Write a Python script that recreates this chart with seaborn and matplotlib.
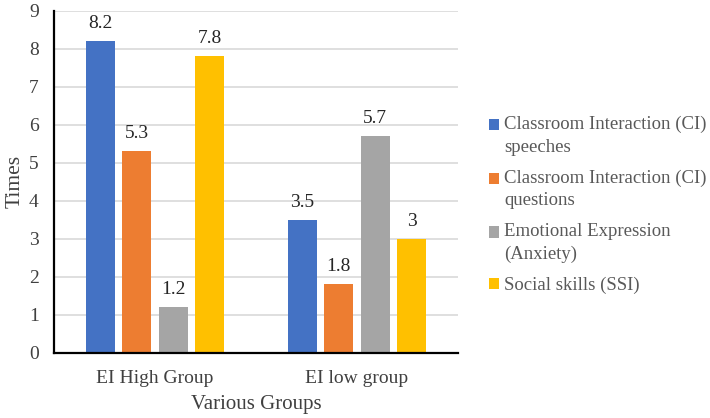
import matplotlib
matplotlib.use("Agg")
import matplotlib.pyplot as plt
import seaborn as sns
import pandas as pd
from matplotlib.patches import Rectangle, Patch
from matplotlib.legend_handler import HandlerPatch

groups = ["EI High Group", "EI low group"]
series = [
    "Classroom Interaction (CI)\nspeeches",
    "Classroom Interaction (CI)\nquestions",
    "Emotional Expression\n(Anxiety)",
    "Social skills (SSI)",
]
ci_speeches = [8.2, 3.5]
ci_questions = [5.3, 1.8]
emotional_anxiety = [1.2, 5.7]
social_skills = [7.8, 3.0]
colors = ["#4472C4", "#ED7D31", "#A5A5A5", "#FFC000"]
y_ticks = list(range(0, 10))

values = [ci_speeches, ci_questions, emotional_anxiety, social_skills]
rows = []
for s, vals in zip(series, values):
    for g, v in zip(groups, vals):
        rows.append({"Group": g, "Series": s, "Times": v})
df = pd.DataFrame(rows)

sns.set_style("white")
plt.rcParams["font.family"] = ["Liberation Serif", "DejaVu Serif"]

fig = plt.figure(figsize=(7.10, 4.18), dpi=100)
ax = fig.add_axes([54 / 710, 1 - 352.7 / 418, (458 - 54) / 710, (352.7 - 10.7) / 418])

sns.barplot(data=df, x="Group", y="Times", hue="Series", order=groups,
            hue_order=series, palette=colors, width=0.72, gap=0.2,
            linewidth=0, saturation=1, legend=False, ax=ax, errorbar=None)

for cont in ax.containers:
    ax.bar_label(cont, fmt="%g", padding=6.5, fontsize=14, color="#262626")

ax.set_ylim(0, 9)
ax.set_yticks(y_ticks)
ax.set_xlim(-0.5, 1.5)
ax.yaxis.grid(True, color="#D9D9D9", linewidth=1.2)
ax.set_axisbelow(True)
for side in ["top", "right"]:
    ax.spines[side].set_visible(False)
for side in ["left", "bottom"]:
    ax.spines[side].set_color("black")
    ax.spines[side].set_linewidth(1.6)
ax.tick_params(axis="both", length=0, labelsize=14, colors="#404040")
ax.tick_params(axis="y", pad=11)
ax.tick_params(axis="x", pad=12.5)
ax.set_xlabel("Various Groups", fontsize=15, color="#404040", labelpad=6)
ax.set_ylabel("Times", fontsize=15.5, color="#404040", labelpad=3)


def make_patch_func(shift):
    def f(legend, orig_handle, xdescent, ydescent, width, height, fontsize):
        return Rectangle((-xdescent, -ydescent + shift), width, height)
    return f


handles = [Patch(facecolor=c, edgecolor="none") for c in colors]
hmap = {}
for h, s in zip(handles, series):
    shift = 8.0 if "\n" in s else 0.0
    hmap[h] = HandlerPatch(patch_func=make_patch_func(shift))

leg = fig.legend(handles, series, loc="upper left",
                 bbox_to_anchor=(489 / 710, 1 - 116 / 418),
                 frameon=False, fontsize=13.5, handlelength=0.54,
                 handleheight=0.54, handletextpad=0.27, labelspacing=0.74,
                 borderpad=0, borderaxespad=0, handler_map=hmap)
for t in leg.get_texts():
    t.set_color("#595959")
    t.set_linespacing(1.42)

fig.savefig("out.png", dpi=100)
